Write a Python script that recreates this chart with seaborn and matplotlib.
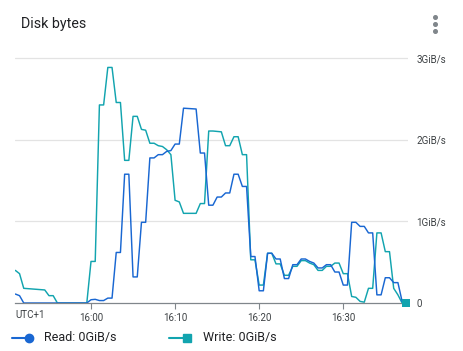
import pandas as pd
import numpy as np
import matplotlib
matplotlib.use("Agg")
import matplotlib.pyplot as plt
import matplotlib.dates as mdates
from matplotlib.lines import Line2D
import seaborn as sns

# =========================================================
# DATA (minutes relative to 16:00, values in GiB/s)
# =========================================================

WRITE_MIN = [-9, -8.5, -8, -5.5, -5, -4.5, -4, -0.5, 0, 0.5, 1, 1.5, 2, 2.5, 3, 3.5,
             4, 4.5, 5, 5.5, 6, 6.5, 7, 7.5, 8, 8.5, 9, 9.5, 10, 10.5, 11, 12.5,
             13, 13.5, 14, 14.5, 15.5, 16, 16.5, 17, 17.5, 18, 18.5, 19, 19.5, 20,
             20.5, 21, 21.5, 22, 22.5, 23, 23.5, 24, 24.5, 25, 25.5, 26, 26.5, 27,
             27.5, 28, 28.5, 29, 29.5, 30, 30.5, 31, 31.5, 32, 32.5, 33, 33.5, 34,
             34.5, 35, 35.5, 36, 36.5, 37]
WRITE_GIB = [0.40, 0.36, 0.18, 0.16, 0.09, 0.09, 0.0, 0.0, 0.51, 0.51, 2.43, 2.43,
             2.89, 2.89, 2.46, 2.46, 1.75, 1.75, 2.29, 2.29, 2.13, 2.12, 1.96, 1.96,
             1.93, 1.92, 1.88, 1.82, 1.26, 1.24, 1.10, 1.10, 1.22, 1.22, 2.11, 2.11,
             2.10, 1.93, 1.93, 2.04, 2.04, 1.82, 1.82, 0.53, 0.53, 0.22, 0.22, 0.61,
             0.61, 0.48, 0.48, 0.34, 0.34, 0.45, 0.45, 0.52, 0.52, 0.49, 0.47, 0.40,
             0.40, 0.45, 0.45, 0.49, 0.49, 0.36, 0.36, 0.08, 0.07, 0.02, 0.01, 0.18,
             0.18, 0.86, 0.86, 0.63, 0.63, 0.18, 0.10, 0.0]

READ_MIN = [-9, -8.5, -8, -0.5, 0, 0.5, 1, 1.5, 2, 2.5, 3, 3.5, 4, 4.5, 5, 5.5, 6,
            6.5, 7, 7.5, 8, 8.5, 9, 9.5, 10, 10.5, 11, 12.5, 13, 13.5, 14, 14.5, 15,
            15.5, 16, 16.5, 17, 17.5, 18, 18.5, 19, 19.5, 20, 20.5, 21, 21.5, 22,
            22.5, 23, 23.5, 24, 24.5, 25, 25.5, 26, 26.5, 27, 27.5, 28, 28.5, 29,
            29.5, 30, 30.5, 31, 31.5, 32, 32.5, 33, 33.5, 34, 34.5, 35, 35.5, 36,
            36.5, 37]
READ_GIB = [0.11, 0.09, 0.0, 0.0, 0.04, 0.045, 0.03, 0.03, 0.06, 0.06, 0.62, 0.62,
            1.58, 1.58, 0.32, 0.32, 0.99, 0.99, 1.78, 1.78, 1.82, 1.82, 1.86, 1.87,
            1.95, 1.95, 2.39, 2.38, 1.84, 1.84, 1.20, 1.20, 1.30, 1.30, 1.35, 1.35,
            1.58, 1.58, 1.43, 1.43, 0.57, 0.57, 0.15, 0.15, 0.61, 0.61, 0.54, 0.54,
            0.30, 0.30, 0.47, 0.47, 0.54, 0.54, 0.51, 0.49, 0.43, 0.43, 0.47, 0.47,
            0.38, 0.38, 0.22, 0.22, 0.99, 0.99, 0.94, 0.94, 0.86, 0.86, 0.10, 0.10,
            0.31, 0.31, 0.25, 0.25, 0.02]

Y_TICKS = [0, 1, 2, 3]
Y_LABELS = ["0", "1GiB/s", "2GiB/s", "3GiB/s"]
X_TICKS_MIN = [0, 10, 20, 30]

BASE = pd.Timestamp("2024-01-01 16:00")
READ_COLOR = "#1967d2"
WRITE_COLOR = "#12a4af"

W, H = 463, 351


def to_time(mins):
    return [BASE + pd.Timedelta(minutes=m) for m in mins]


def fx(px):
    return px / W


def fy(py):
    return 1 - py / H


sns.set_theme(style="white")
plt.rcParams["font.family"] = ["Roboto", "DejaVu Sans"]

df_read = pd.DataFrame({"time": to_time(READ_MIN), "value": READ_GIB, "series": "Read"})
df_write = pd.DataFrame({"time": to_time(WRITE_MIN), "value": WRITE_GIB, "series": "Write"})
df = pd.concat([df_write, df_read], ignore_index=True)

fig = plt.figure(figsize=(W / 100, H / 100), dpi=100)
ax = fig.add_axes([fx(15), fy(303), fx(408) - fx(15), fy(50) - fy(303)])

sns.lineplot(data=df, x="time", y="value", hue="series",
             palette={"Read": READ_COLOR, "Write": WRITE_COLOR},
             hue_order=["Write", "Read"], linewidth=1.05, legend=False,
             estimator=None, sort=False, ax=ax)

# current-value marker at the end
last_t = df_write["time"].iloc[-1] + pd.Timedelta(seconds=30)
ax.scatter([last_t], [df_write["value"].iloc[-1]], marker="s", s=30,
           color=WRITE_COLOR, zorder=5, clip_on=False, linewidths=0)

ax.set_xlim(BASE + pd.Timedelta(minutes=-9.04), BASE + pd.Timedelta(minutes=37.7))
ax.set_ylim(0, 3.104)

for v in Y_TICKS[1:]:
    ax.axhline(v, color="#e3e3e3", linewidth=0.9, zorder=0)

ax.yaxis.tick_right()
ax.set_yticks(Y_TICKS)
ax.set_yticklabels(Y_LABELS)
ax.tick_params(axis="y", length=0, pad=6, labelsize=7, labelcolor="#3c4043")

ax.set_xticks(to_time(X_TICKS_MIN))
ax.xaxis.set_major_formatter(mdates.DateFormatter("%H:%M"))
ax.tick_params(axis="x", length=4, width=0.8, color="#80868b", pad=3,
               labelsize=7, labelcolor="#3c4043", bottom=True)

ax.set_xlabel("")
ax.set_ylabel("")
for side in ["top", "left", "right"]:
    ax.spines[side].set_visible(False)
ax.spines["bottom"].set_color("#80868b")
ax.spines["bottom"].set_linewidth(0.9)
ax.set_facecolor("white")

# timezone label at left of x-axis
fig.text(fx(15), fy(315), "UTC+1", fontsize=7, color="#3c4043", ha="left", va="center")

# title and menu dots
fig.text(fx(21), fy(24), "Disk bytes", fontsize=10.3, color="#202124", ha="left", va="center")
fig.add_artist(Line2D([fx(435)] * 3, [fy(17), fy(24), fy(31)], transform=fig.transFigure,
                      marker="o", linestyle="", markersize=2.6, color="#80868b"))

# legend row
ly = fy(338)
fig.add_artist(Line2D([fx(12), fx(28)], [ly, ly], transform=fig.transFigure,
                      color=READ_COLOR, linewidth=1.5))
fig.add_artist(Line2D([fx(29)], [ly], transform=fig.transFigure, marker="o",
                      markersize=6, color=READ_COLOR, linestyle=""))
fig.text(fx(44), ly, "Read: 0GiB/s", fontsize=9, color="#202124", ha="left", va="center")

fig.add_artist(Line2D([fx(169), fx(184)], [ly, ly], transform=fig.transFigure,
                      color=WRITE_COLOR, linewidth=1.5))
fig.add_artist(Line2D([fx(187)], [ly], transform=fig.transFigure, marker="s",
                      markersize=6, color=WRITE_COLOR, linestyle=""))
fig.text(fx(203), ly, "Write: 0GiB/s", fontsize=9, color="#202124", ha="left", va="center")

fig.savefig("out.png", dpi=100, facecolor="white")
